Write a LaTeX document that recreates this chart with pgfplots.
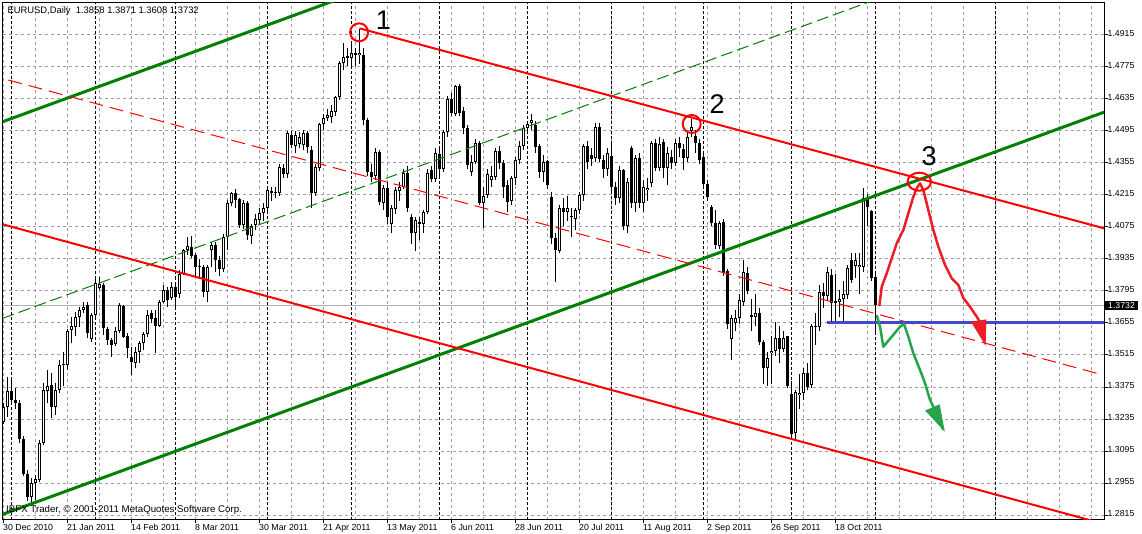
\documentclass[border=0pt]{standalone}
\usepackage{fontspec}
\setmainfont{Liberation Sans}
\usepackage{pgfplots}
\usepackage{pgfplotstable}
\pgfplotsset{compat=1.18}

\definecolor{mtgreen}{RGB}{0,128,0}
\definecolor{mtred}{RGB}{255,0,0}
\definecolor{mtblue}{RGB}{64,72,204}
\definecolor{gridc}{RGB}{160,155,170}
\definecolor{handred}{RGB}{235,30,40}
\definecolor{handgreen}{RGB}{40,165,75}

\pgfplotstableread{
i o h l c
0 1.3220 1.3304 1.3212 1.3286
1 1.3286 1.3420 1.3245 1.3359
2 1.3359 1.3413 1.3300 1.3318
3 1.3318 1.3370 1.3280 1.3304
4 1.3304 1.3318 1.3131 1.3146
5 1.3146 1.3160 1.2985 1.2994
6 1.2994 1.3010 1.2875 1.2895
7 1.2895 1.2975 1.2866 1.2954
8 1.2954 1.2990 1.2881 1.2973
9 1.2968 1.3143 1.2960 1.3128
10 1.3128 1.3391 1.3120 1.3362
11 1.3359 1.3450 1.3304 1.3381
12 1.3383 1.3435 1.3238 1.3289
13 1.3289 1.3391 1.3252 1.3362
14 1.3362 1.3493 1.3350 1.3471
15 1.3471 1.3530 1.3381 1.3476
16 1.3471 1.3628 1.3450 1.3620
17 1.3625 1.3683 1.3566 1.3642
18 1.3636 1.3705 1.3596 1.3683
19 1.3683 1.3727 1.3639 1.3712
20 1.3712 1.3749 1.3698 1.3727
21 1.3734 1.3749 1.3588 1.3610
22 1.3584 1.3698 1.3573 1.3690
23 1.3690 1.3851 1.3683 1.3829
24 1.3807 1.3858 1.3800 1.3826
25 1.3823 1.3831 1.3602 1.3632
26 1.3627 1.3639 1.3559 1.3581
27 1.3581 1.3588 1.3508 1.3559
28 1.3565 1.3639 1.3555 1.3622
29 1.3622 1.3741 1.3610 1.3734
30 1.3729 1.3734 1.3588 1.3595
31 1.3598 1.3610 1.3500 1.3544
32 1.3505 1.3552 1.3428 1.3483
33 1.3482 1.3552 1.3457 1.3530
34 1.3530 1.3578 1.3479 1.3566
35 1.3566 1.3617 1.3537 1.3607
36 1.3607 1.3712 1.3595 1.3690
37 1.3697 1.3712 1.3654 1.3671
38 1.3675 1.3712 1.3523 1.3643
39 1.3643 1.3756 1.3639 1.3748
40 1.3748 1.3821 1.3741 1.3799
41 1.3799 1.3814 1.3726 1.3756
42 1.3763 1.3836 1.3755 1.3811
43 1.3811 1.3836 1.3719 1.3770
44 1.3782 1.3887 1.3763 1.3869
45 1.3869 1.3977 1.3865 1.3974
46 1.3974 1.4033 1.3953 1.3992
47 1.3986 1.4036 1.3938 1.3948
48 1.3952 1.3960 1.3858 1.3901
49 1.3905 1.3934 1.3850 1.3899
50 1.3901 1.3909 1.3770 1.3792
51 1.3792 1.3909 1.3748 1.3898
52 1.3975 1.4011 1.3901 1.3996
53 1.3996 1.4011 1.3880 1.3930
54 1.3930 1.3950 1.3860 1.3890
55 1.3890 1.4045 1.3880 1.4030
56 1.4033 1.4193 1.3974 1.4181
57 1.4181 1.4230 1.4165 1.4225
58 1.4222 1.4240 1.4160 1.4193
59 1.4196 1.4200 1.4070 1.4084
60 1.4084 1.4195 1.4065 1.4181
61 1.4181 1.4190 1.4020 1.4040
62 1.4036 1.4090 1.4000 1.4079
63 1.4084 1.4130 1.4060 1.4109
64 1.4106 1.4160 1.4090 1.4138
65 1.4138 1.4180 1.4100 1.4157
66 1.4157 1.4245 1.4140 1.4237
67 1.4234 1.4250 1.4190 1.4222
68 1.4222 1.4250 1.4200 1.4229
69 1.4222 1.4350 1.4210 1.4339
70 1.4332 1.4350 1.4290 1.4307
71 1.4307 1.4495 1.4290 1.4485
72 1.4477 1.4495 1.4420 1.4434
73 1.4429 1.4495 1.4400 1.4477
74 1.4438 1.4490 1.4420 1.4470
75 1.4434 1.4500 1.4410 1.4488
76 1.4485 1.4495 1.4400 1.4426
77 1.4412 1.4430 1.4157 1.4225
78 1.4225 1.4350 1.4210 1.4339
79 1.4332 1.4530 1.4320 1.4526
80 1.4526 1.4570 1.4500 1.4550
81 1.4550 1.4590 1.4540 1.4565
82 1.4558 1.4610 1.4530 1.4584
83 1.4580 1.4650 1.4560 1.4642
84 1.4642 1.4800 1.4630 1.4791
85 1.4791 1.4880 1.4760 1.4820
86 1.4823 1.4860 1.4780 1.4813
87 1.4813 1.4880 1.4770 1.4835
88 1.4835 1.4860 1.4780 1.4828
89 1.4828 1.4940 1.4790 1.4838
90 1.4828 1.4860 1.4520 1.4543
91 1.4543 1.4550 1.4300 1.4317
92 1.4317 1.4350 1.4270 1.4295
93 1.4300 1.4420 1.4280 1.4405
94 1.4405 1.4410 1.4170 1.4186
95 1.4181 1.4260 1.4150 1.4244
96 1.4244 1.4270 1.4090 1.4117
97 1.4088 1.4170 1.4050 1.4157
98 1.4152 1.4250 1.4130 1.4237
99 1.4234 1.4270 1.4190 1.4251
100 1.4251 1.4330 1.4240 1.4310
101 1.4310 1.4340 1.4140 1.4157
102 1.4120 1.4130 1.4000 1.4047
103 1.4047 1.4120 1.3968 1.4106
104 1.4098 1.4120 1.4020 1.4088
105 1.4088 1.4150 1.4050 1.4142
106 1.4142 1.4330 1.4130 1.4313
107 1.4324 1.4340 1.4270 1.4283
108 1.4283 1.4420 1.4270 1.4397
109 1.4395 1.4420 1.4290 1.4330
110 1.4327 1.4500 1.4315 1.4492
111 1.4489 1.4650 1.4470 1.4635
112 1.4635 1.4660 1.4560 1.4572
113 1.4569 1.4695 1.4560 1.4690
114 1.4690 1.4700 1.4560 1.4575
115 1.4583 1.4600 1.4480 1.4507
116 1.4507 1.4520 1.4330 1.4346
117 1.4317 1.4390 1.4300 1.4361
118 1.4361 1.4460 1.4350 1.4441
119 1.4441 1.4450 1.4170 1.4179
120 1.4179 1.4250 1.4069 1.4211
121 1.4215 1.4330 1.4200 1.4305
122 1.4281 1.4340 1.4250 1.4298
123 1.4295 1.4420 1.4280 1.4407
124 1.4407 1.4430 1.4330 1.4354
125 1.4354 1.4370 1.4200 1.4251
126 1.4259 1.4280 1.4142 1.4186
127 1.4189 1.4300 1.4170 1.4288
128 1.4288 1.4380 1.4260 1.4368
129 1.4368 1.4450 1.4350 1.4431
130 1.4431 1.4520 1.4410 1.4507
131 1.4507 1.4540 1.4480 1.4524
132 1.4532 1.4570 1.4500 1.4542
133 1.4521 1.4540 1.4400 1.4427
134 1.4429 1.4440 1.4290 1.4317
135 1.4317 1.4390 1.4270 1.4361
136 1.4364 1.4370 1.4240 1.4259
137 1.4208 1.4230 1.4000 1.4025
138 1.4025 1.4050 1.3836 1.3974
139 1.3971 1.4170 1.3960 1.4157
140 1.4157 1.4200 1.4080 1.4142
141 1.4142 1.4210 1.4100 1.4157
142 1.4117 1.4160 1.4030 1.4120
143 1.4110 1.4160 1.4060 1.4149
144 1.4149 1.4230 1.4130 1.4215
145 1.4215 1.4440 1.4190 1.4429
146 1.4429 1.4450 1.4330 1.4358
147 1.4390 1.4420 1.4340 1.4373
148 1.4375 1.4530 1.4360 1.4514
149 1.4514 1.4530 1.4360 1.4373
150 1.4368 1.4390 1.4290 1.4329
151 1.4327 1.4420 1.4300 1.4397
152 1.4386 1.4450 1.4230 1.4251
153 1.4251 1.4270 1.4170 1.4200
154 1.4200 1.4340 1.4180 1.4324
155 1.4324 1.4330 1.4060 1.4081
156 1.4081 1.4290 1.4050 1.4273
157 1.4422 1.4430 1.4160 1.4179
158 1.4179 1.4390 1.4140 1.4375
159 1.4375 1.4400 1.4160 1.4179
160 1.4179 1.4280 1.4140 1.4251
161 1.4237 1.4290 1.4190 1.4247
162 1.4266 1.4450 1.4250 1.4441
163 1.4444 1.4460 1.4320 1.4332
164 1.4335 1.4470 1.4320 1.4440
165 1.4448 1.4460 1.4288 1.4332
166 1.4332 1.4427 1.4259 1.4397
167 1.4383 1.4410 1.4330 1.4354
168 1.4356 1.4460 1.4340 1.4441
169 1.4441 1.4470 1.4380 1.4419
170 1.4415 1.4440 1.4325 1.4375
171 1.4375 1.4490 1.4360 1.4470
172 1.4497 1.4546 1.4470 1.4514
173 1.4473 1.4500 1.4400 1.4441
174 1.4441 1.4460 1.4350 1.4368
175 1.4380 1.4400 1.4240 1.4263
176 1.4263 1.4280 1.4190 1.4205
177 1.4164 1.4170 1.4080 1.4094
178 1.4094 1.4150 1.3980 1.3996
179 1.3992 1.4100 1.3980 1.4094
180 1.4098 1.4110 1.3860 1.3875
181 1.3882 1.3890 1.3630 1.3649
182 1.3584 1.3690 1.3493 1.3675
183 1.3654 1.3710 1.3620 1.3675
184 1.3675 1.3780 1.3650 1.3756
185 1.3748 1.3931 1.3730 1.3877
186 1.3872 1.3900 1.3780 1.3796
187 1.3690 1.3760 1.3620 1.3683
188 1.3683 1.3780 1.3640 1.3697
189 1.3697 1.3720 1.3560 1.3570
190 1.3570 1.3580 1.3390 1.3460
191 1.3460 1.3530 1.3380 1.3500
192 1.3525 1.3600 1.3390 1.3534
193 1.3534 1.3660 1.3510 1.3588
194 1.3588 1.3640 1.3480 1.3540
195 1.3540 1.3620 1.3530 1.3591
196 1.3600 1.3600 1.3370 1.3379
197 1.3343 1.3400 1.3155 1.3170
198 1.3172 1.3360 1.3145 1.3352
199 1.3340 1.3430 1.3280 1.3350
200 1.3350 1.3460 1.3320 1.3435
201 1.3435 1.3480 1.3360 1.3374
202 1.3384 1.3650 1.3370 1.3642
203 1.3636 1.3700 1.3560 1.3640
204 1.3639 1.3820 1.3620 1.3792
205 1.3792 1.3830 1.3720 1.3773
206 1.3775 1.3900 1.3750 1.3880
207 1.3865 1.3890 1.3660 1.3741
208 1.3751 1.3870 1.3655 1.3741
209 1.3748 1.3800 1.3680 1.3758
210 1.3758 1.3840 1.3655 1.3780
211 1.3778 1.3910 1.3760 1.3894
212 1.3931 1.3960 1.3830 1.3843
213 1.3904 1.3960 1.3850 1.3931
214 1.3900 1.3960 1.3780 1.3909
215 1.3902 1.4244 1.3880 1.4200
216 1.4196 1.4220 1.4080 1.4164
217 1.4145 1.4150 1.3840 1.3853
218 1.3858 1.3871 1.3608 1.3732
}\candles

\begin{document}
\begin{tikzpicture}
\useasboundingbox (0,0) rectangle (1142pt,-534pt);
\begin{axis}[
  at={(2.5pt,-2.5pt)}, anchor=north west,
  scale only axis, width=1101.5pt, height=517pt,
  xmin=-0.25, xmax=275.125, ymin=1.27953, ymax=1.50572,
  axis line style={black, line width=1pt},
  tick align=outside,
  xtick pos=left, ytick pos=right, yticklabel pos=right,
  xtick={0,16,...,208},
  xticklabels={30 Dec 2010,21 Jan 2011,14 Feb 2011,8 Mar 2011,30 Mar 2011,21 Apr 2011,13 May 2011,6 Jun 2011,28 Jun 2011,20 Jul 2011,11 Aug 2011,2 Sep 2011,26 Sep 2011,18 Oct 2011},
  minor xtick={8,16,...,272},
  ytick={1.2815,1.2955,1.3095,1.3235,1.3375,1.3515,1.3655,1.3795,1.3935,1.4075,1.4215,1.4355,1.4495,1.4635,1.4775,1.4915},
  yticklabels={1.2815,1.2955,1.3095,1.3235,1.3375,1.3515,1.3655,1.3795,1.3935,1.4075,1.4215,1.4355,1.4495,1.4635,1.4775,1.4915},
  major tick length=3.5pt, minor tick length=0pt,
  tick style={black, line width=1pt},
  xmajorgrids, xminorgrids, ymajorgrids,
  major grid style={gridc, line width=1pt, dash pattern=on 3pt off 3pt},
  minor grid style={gridc, line width=1pt, dash pattern=on 3pt off 3pt},
  xticklabel style={font=\fontsize{8.8}{8.8}\selectfont, anchor=north west, inner sep=0pt, text height=6.3pt, text depth=1.8pt, xshift=-0.5pt, yshift=-1pt},
  yticklabel style={font=\fontsize{8.7}{8.7}\selectfont, anchor=west, inner sep=0pt, yshift=1.5pt},
  extra x ticks={2,23,43,66,87,109,131,152,175,197,218,248},
  extra x tick labels={},
  extra x tick style={major tick length=0pt, grid=major, major grid style={black, line width=1pt, dash pattern=on 3pt off 2pt}},
  extra y ticks={1.3732}, extra y tick labels={1.3732},
  extra y tick style={grid=major, major grid style={solid, black!30, line width=1pt},
     yticklabel style={fill=black, text=white, inner xsep=3pt, inner ysep=1.3pt, yshift=-1.5pt, xshift=-2.5pt}},
]
% wicks
\addplot[draw=none, mark=none, error bars/.cd, y dir=plus, y explicit, error mark=none,
   error bar style={draw=black, line width=1pt, solid}]
  table[x=i, y=l, y error plus expr={\thisrow{h}-\thisrow{l}}] {\candles};
% bodies (black outline / black fill)
\addplot[draw=none, mark=none, error bars/.cd, y dir=plus, y explicit, error mark=none,
   error bar style={draw=black, line width=3pt, solid}]
  table[x=i, y expr={min(\thisrow{o},\thisrow{c})}, y error plus expr={max(abs(\thisrow{c}-\thisrow{o}),0.00044)}] {\candles};
% white interior of rising candles
\addplot[draw=none, mark=none, error bars/.cd, y dir=plus, y explicit, error mark=none,
   error bar style={draw=white, line width=1pt, solid}]
  table[x=i, y expr={\thisrow{o}+0.00044}, y error plus expr={max(\thisrow{c}-\thisrow{o}-0.00088,0)}] {\candles};

% channel lines
\addplot[mtgreen, line width=3pt] coordinates {(-0.25,1.45354) (95,1.51440)};
\addplot[mtgreen, line width=3pt] coordinates {(-0.25,1.28177) (275.125,1.45774)};
\addplot[mtgreen, line width=1pt, dash pattern=on 12pt off 5pt] coordinates {(-0.25,1.36752) (240,1.52104)};
\addplot[mtred, line width=2pt] coordinates {(89,1.49442) (275.125,1.40693)};
\addplot[mtred, line width=2pt] coordinates {(-0.25,1.40870) (275.125,1.27755)};
\addplot[mtred, line width=1pt, dash pattern=on 14pt off 7pt] coordinates {(1.2,1.47181) (274,1.34319)};
% support line
\addplot[mtblue, line width=3pt] coordinates {(205.8,1.3655) (276,1.3655)};

% circles
\addplot[only marks, mark=o, mark size=9pt, mark options={mtred, line width=2pt}] coordinates {(88.9,1.49268) (172.05,1.45256)};
\addplot[only marks, mark=o, mark size=9pt, mark options={mtred, line width=2pt, xscale=1.3}] coordinates {(228.95,1.42732)};

% hand drawn red path
\addplot[handred, line width=2.5pt, line join=round] coordinates {
 (218.95,1.37294) (219.55,1.38138) (220.8,1.38724) (222.05,1.39381) (223.3,1.40037) (224.95,1.40619)
 (226.2,1.41349) (227.45,1.42076) (228.3,1.42443) (229.1,1.42662) (229.95,1.42369) (231.2,1.41494)
 (232.45,1.40619) (233.7,1.39888) (235.375,1.39087) (237.05,1.38506) (238.7,1.38212) (239.95,1.37644)
 (241.6,1.37263) (243.3,1.36826) (244.55,1.36463)};
\addplot[handred, fill=handred, line width=1pt] coordinates {(242.05,1.36594) (245.6,1.36681) (245.4,1.35631)} -- cycle;
% hand drawn green path
\addplot[handgreen, line width=2.5pt, line join=round] coordinates {
 (218.3,1.36900) (219.125,1.36388) (219.95,1.35513) (222.05,1.35951) (224.125,1.36388) (225.125,1.36506)
 (226.2,1.35951) (227.45,1.35224) (229.125,1.34494) (230.375,1.33912) (231.625,1.33181) (232.875,1.32744)
 (234.95,1.31869)};
\addplot[handgreen, fill=handgreen, line width=1pt] coordinates {(230.6,1.32713) (233.95,1.32962) (235.1,1.31869)} -- cycle;

% labels
\node[font=\fontsize{27}{27}\selectfont, inner sep=0pt] at (axis cs:94.95,1.49793) {1};
\node[font=\fontsize{27}{27}\selectfont, inner sep=0pt] at (axis cs:178.4,1.46131) {2};
\node[font=\fontsize{27}{27}\selectfont, inner sep=0pt] at (axis cs:231.4,1.43826) {3};
\node[anchor=base west, inner sep=0pt, font=\fontsize{9.4}{9.4}\selectfont] at (axis cs:0.95,1.50069) {EURUSD,Daily\ \ 1.3858 1.3871 1.3608 1.3732};
\node[anchor=base west, inner sep=0pt, font=\fontsize{9.7}{9.7}\selectfont] at (axis cs:0.625,1.28268) {IBFX Trader, © 2001-2011 MetaQuotes Software Corp.};
\end{axis}
\end{tikzpicture}
\end{document}
